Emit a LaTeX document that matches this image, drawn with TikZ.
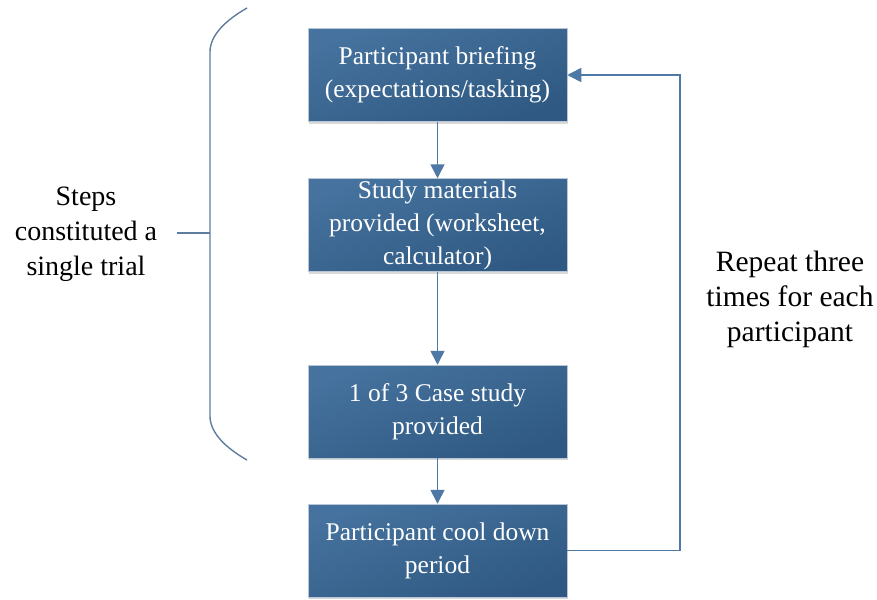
\documentclass[tikz,border=0pt]{standalone}
\usepackage{fontspec}
\setmainfont{Liberation Serif}
\usetikzlibrary{arrows.meta,shadows}
\definecolor{boxtop}{HTML}{45729E}
\definecolor{boxbot}{HTML}{2F5982}
\definecolor{boxedge}{HTML}{B8C6D6}
\definecolor{linkc}{HTML}{4E78A5}
\definecolor{bracec}{HTML}{5E7D9E}
\tikzset{
  stepbox/.style={rectangle, minimum width=259pt, minimum height=93pt,
    inner sep=0pt, align=center, text=white,
    top color=boxtop, bottom color=boxbot, shading angle=20,
    draw=boxedge, line width=0.5pt,
    drop shadow={shadow xshift=1pt, shadow yshift=-2pt, opacity=0.25, fill=black!60},
    font=\fontsize{25.5}{33}\selectfont},
  link/.style={draw=linkc, line width=1.6pt, -{Triangle[width=14pt,length=14pt]}},
  sidetext/.style={align=center, text=black},
}
\begin{document}
\begin{tikzpicture}[x=1pt,y=-1pt]
\useasboundingbox (0,0) rectangle (877,599);
\node[stepbox] (b1) at (437.5,75) {Participant briefing\\(expectations/tasking)};
\node[stepbox] (b2) at (437.5,225) {Study materials\\provided (worksheet,\\calculator)};
\node[stepbox] (b3) at (437.5,411.5) {1 of 3 Case study\\provided};
\node[stepbox] (b4) at (437.5,550.5) {Participant cool down\\period};
\draw[link] (b1) -- (b2);
\draw[link] (b2) -- (b3);
\draw[link] (b3) -- (b4);
\coordinate (r1) at (680,550.5);
\coordinate (r2) at (680,75);
\draw[link] (b4.east) -- (r1) -- (r2) -- (b1.east);
\node[sidetext, font=\fontsize{29.5}{35}\selectfont] (rep) at (790,299) {Repeat three\\times for each\\participant};
\node[sidetext, font=\fontsize{28}{35}\selectfont] (steps) at (86,234) {Steps\\constituted a\\single trial};
\coordinate (bt) at (247,8);
\coordinate (bb) at (247,460);
\coordinate (bm) at (210,233);
\draw[bracec, line width=1.4pt] (bt) .. controls (226,20) and (210,35) .. (210,52)
  -- (210,416) .. controls (210,433) and (226,448) .. (bb);
\draw[bracec, line width=1.4pt] (177,233) -- (bm);
\end{tikzpicture}
\end{document}
